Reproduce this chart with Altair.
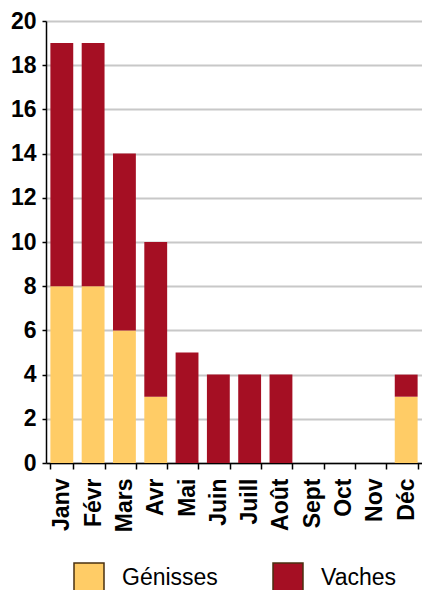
import altair as alt
import pandas as pd

months = ["Janv", "Févr", "Mars", "Avr", "Mai", "Juin", "Juill", "Août", "Sept", "Oct", "Nov", "Déc"]
genisses = [8, 8, 6, 3, 0, 0, 0, 0, 0, 0, 0, 3]
vaches = [11, 11, 8, 7, 5, 4, 4, 4, 0, 0, 0, 1]
series = ["Génisses", "Vaches"]
colors = ["#FFCC66", "#A50F23"]

rows = []
for m, g, v in zip(months, genisses, vaches):
    rows.append({"mois": m, "type": series[0], "n": g, "ord": 0})
    rows.append({"mois": m, "type": series[1], "n": v, "ord": 1})
df = pd.DataFrame(rows)

FONT = "Liberation Sans"

chart = alt.Chart(df).mark_bar().encode(
    x=alt.X("mois:N", sort=months, title=None,
            scale=alt.Scale(paddingInner=0.27, paddingOuter=0.14),
            axis=alt.Axis(labelAngle=-90, labelFont=FONT, labelFontSize=23,
                          labelFontWeight="bold", labelColor="#000",
                          tickBand="extent", tickSize=6, tickColor="#000",
                          tickWidth=1.5, domainColor="#000", domainWidth=1.5,
                          labelPadding=9, grid=False)),
    y=alt.Y("n:Q", stack="zero", title=None,
            scale=alt.Scale(domain=[0, 20], nice=False),
            axis=alt.Axis(values=list(range(0, 21, 2)), labelFont=FONT,
                          labelFontSize=23, labelFontWeight="bold", labelColor="#000",
                          tickSize=4, tickColor="#000", tickWidth=1.5,
                          domainColor="#000", domainWidth=1.5, labelPadding=6,
                          grid=True, gridColor="#c8c8c8", gridWidth=2)),
    color=alt.Color("type:N", scale=alt.Scale(domain=series, range=colors),
                    legend=alt.Legend(title=None, orient="none", legendX=27, legendY=541,
                                      direction="horizontal", symbolType="square",
                                      symbolSize=900, symbolStrokeColor="#4a3010",
                                      symbolStrokeWidth=1.5, symbolOpacity=1,
                                      labelFont=FONT, labelFontSize=23, labelColor="#000",
                                      labelOffset=17, columnPadding=52, padding=0)),
    order=alt.Order("ord:Q"),
).properties(
    width=376, height=442,
    autosize=alt.AutoSizeParams(type="none"),
    padding={"left": 38, "top": 13, "right": 0, "bottom": 127},
).configure_view(stroke=None)

chart.save("out.html", embed_options={"renderer": "svg", "actions": False})
